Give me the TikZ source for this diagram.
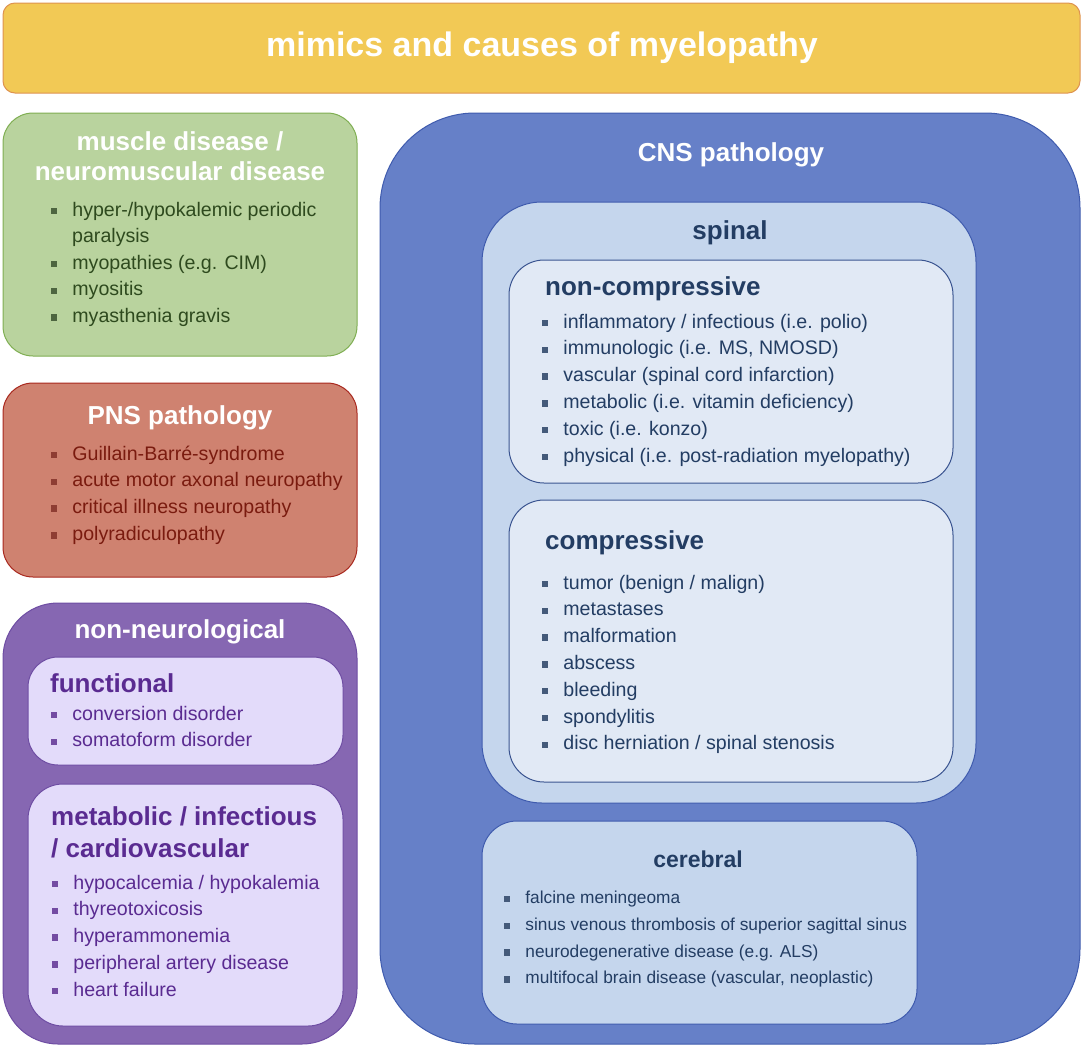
\documentclass[tikz,border=0pt]{standalone}
\usepackage{fontspec}
\setmainfont{Liberation Sans}
\usetikzlibrary{positioning}

\definecolor{titlefill}{HTML}{F2C955}
\definecolor{titleline}{HTML}{DE9350}
\definecolor{musclefill}{HTML}{B9D39E}
\definecolor{muscleline}{HTML}{7FAE52}
\definecolor{muscletext}{HTML}{2E4A1E}
\definecolor{pnsfill}{HTML}{CF8270}
\definecolor{pnsline}{HTML}{A8281E}
\definecolor{pnstext}{HTML}{7A1B0F}
\definecolor{nonfill}{HTML}{8667B2}
\definecolor{nonline}{HTML}{6E4DA3}
\definecolor{nonin}{HTML}{E3DBFA}
\definecolor{nontext}{HTML}{5A2B91}
\definecolor{cnsfill}{HTML}{6680C8}
\definecolor{cnsline}{HTML}{3F5BAE}
\definecolor{spinfill}{HTML}{C5D6ED}
\definecolor{spinin}{HTML}{E1E9F5}
\definecolor{spinline}{HTML}{3A5490}
\definecolor{spintext}{HTML}{233D63}

\tikzset{
  box/.style={line width=1pt, rounded corners=#1},
  heads/.style={font=\bfseries\fontsize{26}{32}\selectfont, inner sep=0pt},
  itm/.style={font=\fontsize{19.6}{27}\selectfont, inner sep=0pt, anchor=west,
    text height=14pt, text depth=4pt},
  small/.style={font=\fontsize{17.3}{24}\selectfont, text height=12.5pt, text depth=3.5pt},
  bul/.style={rectangle, minimum size=6.5pt, inner sep=0pt}
}

% bullet list: [extra style] name, text x, first y, colour, items
\newcommand{\itemlist}[6][]{%
  \foreach \t [count=\k] in {#6} {
    \node[bul, fill=#5!85] (#2b\k) at (#3-18, #4+26.8*\k-26.8) {};
    \node[itm, #1, text=#5, right=14.75pt of #2b\k] (#2t\k) {\t};
  }}

\begin{document}
\begin{tikzpicture}[x=1pt, y=-1pt]
  \useasboundingbox (0,0) rectangle (1084,1047);

  % title bar
  \draw[box=12pt, draw=titleline, fill=titlefill] (3,3) rectangle (1080,93);
  \node[font=\bfseries\fontsize{34}{40}\selectfont, text=white] (title) at (542,48) {mimics and causes of myelopathy};

  % muscle disease
  \draw[box=30pt, draw=muscleline, fill=musclefill] (3,113) rectangle (357,356);
  \node[heads, text=white, align=center, font=\bfseries\fontsize{26}{30}\selectfont] (muscle) at (180,156.5) {muscle disease /\\neuromuscular disease};
  \itemlist{mu}{72}{211}{muscletext}{hyper-/hypokalemic periodic}
  \node[itm, text=muscletext] (mupara) at (72,237.5) {paralysis};
  \itemlist{mv}{72}{264}{muscletext}{myopathies (e.g. CIM), myositis, myasthenia gravis}

  % PNS pathology
  \draw[box=30pt, draw=pnsline, fill=pnsfill] (3,383) rectangle (357,577);
  \node[heads, text=white] (pns) at (180,417.5) {PNS pathology};
  \itemlist{pn}{72}{455}{pnstext}{Guillain-Barré-syndrome, acute motor axonal neuropathy, critical illness neuropathy, polyradiculopathy}

  % non-neurological
  \draw[box=55pt, draw=nonline, fill=nonfill] (3,603) rectangle (357,1044);
  \node[heads, text=white] (nonneuro) at (180,631.5) {non-neurological};
  \draw[box=30pt, draw=nonline, fill=nonin] (28,657) rectangle (343,765);
  \node[heads, text=nontext, anchor=west] (func) at (50,683) {functional};
  \itemlist{fu}{72}{715}{nontext}{conversion disorder, somatoform disorder}
  \draw[box=35pt, draw=nonline, fill=nonin] (28,784) rectangle (343,1026);
  \node[heads, text=nontext, anchor=west, align=left] (meta) at (51,832) {metabolic / infectious\\/ cardiovascular};
  \itemlist{me}{73}{884}{nontext}{hypocalcemia / hypokalemia, thyreotoxicosis, hyperammonemia, peripheral artery disease, heart failure}

  % CNS pathology
  \draw[box=95pt, draw=cnsline, fill=cnsfill] (380,113) rectangle (1080,1044);
  \node[heads, text=white] (cns) at (731,155) {CNS pathology};

  % spinal
  \draw[box=60pt, draw=cnsline, fill=spinfill] (482,202) rectangle (976,803);
  \node[heads, text=spintext] (spinal) at (730,233) {spinal};
  \draw[box=35pt, draw=spinline, fill=spinin] (509,260) rectangle (953,483);
  \node[heads, text=spintext, anchor=west] (noncomp) at (545,288.5) {non-compressive};
  \itemlist{nc}{563}{323}{spintext}{inflammatory / infectious (i.e. polio), {immunologic (i.e. MS, NMOSD)}, vascular (spinal cord infarction), metabolic (i.e. vitamin deficiency), toxic (i.e. konzo), physical (i.e. post-radiation myelopathy)}
  \draw[box=35pt, draw=spinline, fill=spinin] (509,500) rectangle (953,782);
  \node[heads, text=spintext, anchor=west] (comp) at (545,542.5) {compressive};
  \itemlist{co}{563}{584}{spintext}{tumor (benign / malign), metastases, malformation, abscess, bleeding, spondylitis, disc herniation / spinal stenosis}

  % cerebral
  \draw[box=35pt, draw=cnsline, fill=spinfill] (482,821) rectangle (917,1024);
  \node[heads, text=spintext, font=\bfseries\fontsize{23}{28}\selectfont] (cerebral) at (698,859) {cerebral};
  \itemlist[small]{ce}{525}{899}{spintext}{falcine meningeoma, sinus venous thrombosis of superior sagittal sinus, {neurodegenerative disease (e.g. ALS)}, {multifocal brain disease (vascular, neoplastic)}}
\end{tikzpicture}
\end{document}
